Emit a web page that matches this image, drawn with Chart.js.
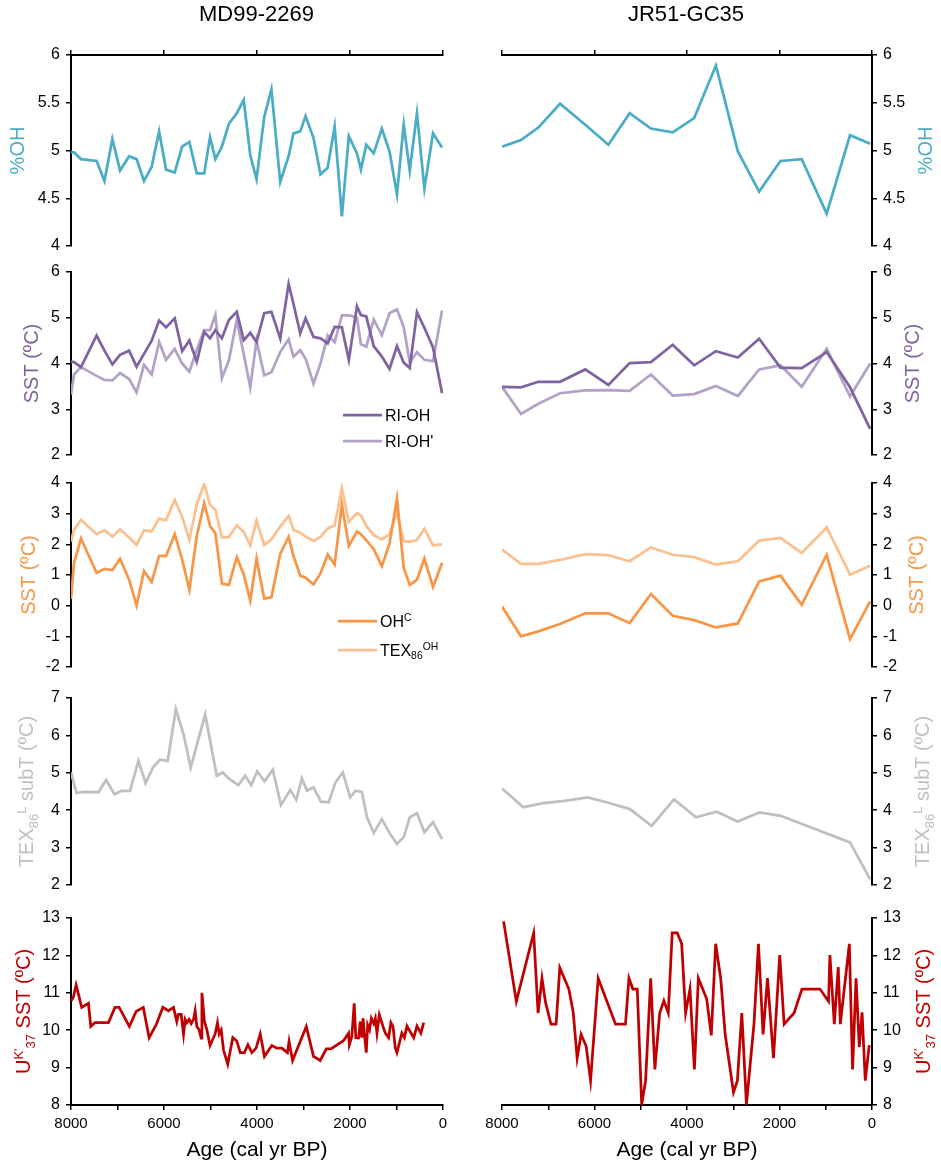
<!DOCTYPE html>
<html><head><meta charset="utf-8">
<script src="https://cdn.jsdelivr.net/npm/chart.js@4.4.1/dist/chart.umd.min.js"></script>
<style>
html,body{margin:0;padding:0;background:#fff;}
#wrap{position:relative;width:941px;height:1168px;overflow:hidden;background:#fff;}
.pane{position:absolute;}
.pane canvas{display:block;}
</style></head><body><div id="wrap"></div>
<script>
// ---------------- DATA ----------------
const cores = ['MD99-2269', 'JR51-GC35'];

// MD99-2269 – OH-GDGT based records (cal yr BP)
const ageMD_OH = [8000,7935,7785,7450,7280,7110,6945,6750,6590,6430,6265,6105,5955,5770,5610,5455,5295,5135,5010,4895,4755,4605,4435,4285,4145,4010,3845,3690,3500,3320,3215,3070,2955,2785,2635,2480,2330,2175,2025,1850,1765,1650,1490,1315,1150,990,845,715,560,400,215,20];
const pctOH_MD = [4.98,4.98,4.91,4.89,4.68,5.12,4.79,4.94,4.91,4.68,4.83,5.20,4.80,4.77,5.04,5.09,4.76,4.76,5.14,4.91,5.04,5.28,5.39,5.53,4.95,4.70,5.35,5.64,4.67,4.94,5.18,5.20,5.36,5.13,4.75,4.82,5.25,4.31,5.15,4.97,4.80,5.06,4.97,5.23,4.99,4.54,5.27,4.79,5.39,4.60,5.18,5.03];
const riOH_MD = [4.04,4.03,3.92,4.61,4.28,3.98,4.19,4.28,3.93,4.21,4.50,4.94,4.79,4.99,4.27,4.50,4.04,4.69,4.55,4.73,4.55,4.95,5.13,4.51,4.67,4.47,5.10,5.13,4.55,5.74,5.30,4.66,4.99,4.58,4.55,4.44,4.80,4.79,4.08,5.25,5.06,5.03,4.38,4.15,3.88,4.38,4.02,3.90,5.12,4.78,4.35,3.35];
const riOHp_MD = [3.32,3.76,3.92,3.73,3.64,3.63,3.79,3.66,3.37,3.97,3.76,4.47,4.08,4.32,4.00,3.82,4.30,4.73,4.73,5.06,3.68,4.07,4.95,4.20,3.48,4.50,3.74,3.81,4.25,4.53,4.15,4.29,4.11,3.56,4.00,4.62,4.47,5.05,5.05,5.00,4.42,4.37,4.96,4.62,5.10,5.18,4.80,4.02,4.25,4.08,4.05,5.16];
const ohC_MD = [0.22,1.40,2.19,1.07,1.20,1.16,1.53,0.85,0.00,1.13,0.77,1.62,1.62,2.33,1.51,0.52,2.27,3.34,2.60,2.36,0.72,0.68,1.58,1.02,0.17,1.53,0.23,0.27,1.69,2.25,1.62,0.98,0.91,0.69,1.05,1.67,1.34,3.29,1.95,2.42,2.33,2.14,1.84,1.29,2.02,3.50,1.24,0.67,0.85,1.53,0.61,1.40];
const tex86OH_MD = [2.09,2.47,2.80,2.33,2.46,2.25,2.49,2.22,1.98,2.46,2.42,2.84,2.79,3.45,2.90,2.14,3.31,3.97,3.28,3.13,2.22,2.24,2.62,2.40,1.97,2.77,1.98,2.16,2.58,2.93,2.47,2.38,2.25,2.11,2.24,2.52,2.62,3.83,2.73,3.02,2.95,2.60,2.30,2.16,2.33,3.04,2.11,2.08,2.14,2.51,1.97,2.00];
// MD99-2269 – TEX86L subsurface temperature
const ageMD_TEXL = [8000,7880,7735,7410,7245,7065,6910,6730,6550,6395,6240,6085,5920,5745,5580,5425,5260,5115,4865,4735,4590,4400,4255,4125,3995,3840,3660,3485,3285,3155,3035,2925,2785,2625,2460,2315,2155,1995,1885,1745,1635,1490,1315,1135,990,845,715,560,400,215,20];
const texL_MD = [5.01,4.46,4.49,4.48,4.81,4.43,4.52,4.52,5.32,4.72,5.14,5.35,5.32,6.70,6.03,5.14,5.90,6.56,4.92,5.01,4.83,4.67,4.92,4.67,5.04,4.77,5.08,4.14,4.54,4.28,4.85,4.52,4.61,4.23,4.21,4.74,5.01,4.34,4.52,4.49,3.81,3.39,3.76,3.36,3.10,3.28,3.81,3.92,3.41,3.68,3.23];
// MD99-2269 – UK'37 SST
const ageMD_UK = [8000,7950,7890,7770,7625,7575,7485,7195,7055,6965,6745,6600,6445,6320,6170,6025,5905,5795,5725,5690,5630,5580,5545,5510,5460,5415,5365,5330,5295,5245,5200,5185,5130,5080,5010,4900,4850,4815,4770,4720,4630,4520,4435,4360,4270,4195,4110,4020,3930,3840,3680,3575,3465,3345,3310,3235,2940,2785,2640,2510,2410,2140,2030,2015,1960,1910,1875,1815,1780,1745,1720,1685,1650,1620,1580,1540,1490,1455,1420,1370,1290,1240,1170,1120,1075,1025,990,885,830,775,630,560,475,415];
const uk37_MD = [10.78,10.88,11.21,10.61,10.72,10.10,10.20,10.20,10.61,10.61,10.10,10.50,10.61,9.80,10.14,10.61,10.52,10.61,10.23,10.42,10.42,9.89,10.29,10.20,10.29,10.18,10.29,10.52,10.10,10.01,9.79,11.00,10.23,10.02,9.59,9.90,10.20,9.90,10.01,9.47,9.09,9.80,9.71,9.40,9.40,9.61,9.40,9.52,9.90,9.30,9.59,9.52,9.52,9.40,9.70,9.19,10.10,9.30,9.19,9.50,9.50,9.72,9.92,9.61,9.83,10.72,9.80,9.79,10.23,9.80,10.32,9.83,9.40,10.14,10.01,10.32,10.18,10.32,9.92,10.41,10.10,9.92,9.80,10.20,10.10,9.52,9.40,9.92,9.80,10.11,9.80,10.11,9.92,10.20];

// JR51-GC35 – OH-GDGT based records
const ageJR_OH = [8000,7590,7215,6745,6200,5700,5240,4780,4310,3845,3375,2900,2440,1980,1520,980,475,40];
const pctOH_JR = [5.04,5.11,5.24,5.49,5.27,5.06,5.39,5.23,5.19,5.34,5.89,4.99,4.57,4.89,4.91,4.34,5.16,5.07];
const riOH_JR = [3.49,3.48,3.60,3.60,3.87,3.53,4.01,4.03,4.41,3.96,4.27,4.13,4.54,3.91,3.90,4.25,3.48,2.57];
const riOHp_JR = [3.49,2.90,3.12,3.35,3.41,3.42,3.40,3.76,3.30,3.33,3.51,3.29,3.87,3.96,3.49,4.32,3.28,4.00];
const ohC_JR = [-0.03,-1.00,-0.84,-0.60,-0.25,-0.25,-0.57,0.38,-0.33,-0.47,-0.71,-0.58,0.79,0.98,0.03,1.66,-1.09,0.14];
const tex86OH_JR = [1.83,1.36,1.36,1.49,1.68,1.65,1.45,1.90,1.66,1.58,1.34,1.45,2.12,2.21,1.72,2.55,1.01,1.30];
// JR51-GC35 – TEX86L subsurface temperature
const ageJR_TEXL = [8000,7540,7105,6650,6150,5700,5235,4765,4280,3805,3360,2905,2435,1975,475,40];
const texL_JR = [4.58,4.08,4.19,4.25,4.34,4.20,4.03,3.58,4.29,3.81,3.96,3.70,3.94,3.85,3.14,2.15];
// JR51-GC35 – UK'37 SST
const ageJR_UK = [7965,7690,7315,7220,7135,7060,6940,6830,6750,6555,6460,6375,6290,6180,6085,5920,5545,5330,5255,5170,5075,4980,4895,4785,4695,4590,4500,4405,4320,4210,4115,4030,3935,3840,3755,3575,3475,3380,3270,3175,2995,2910,2815,2715,2620,2550,2455,2355,2260,2130,1995,1900,1685,1515,1125,940,910,815,730,685,490,420,345,275,215,145,60];
const uk37_JR = [12.91,10.77,12.60,10.46,11.39,10.75,10.16,10.16,11.67,11.10,10.48,9.25,9.89,9.57,8.65,11.39,10.16,10.16,11.39,11.10,11.10,8.01,8.65,11.39,8.95,10.46,10.79,10.46,12.60,12.60,12.31,10.46,11.10,8.95,11.39,10.84,9.86,12.31,11.37,9.89,8.34,8.65,10.46,8.01,9.27,10.19,12.31,9.89,11.39,9.25,12.01,10.16,10.46,11.10,11.10,10.77,12.01,10.16,11.69,10.16,12.31,8.95,11.39,9.55,10.48,8.65,9.60];

// axis ranges [min, max, step]
const yPctOH = [4, 6, 0.5];
const ySSTri = [2, 6, 1];
const ySSTorange = [-2, 4, 1];
const ySubT = [2, 7, 1];
const yUK = [8, 13, 1];
const xAge = [0, 8000];
const xAxisTitle = 'Age (cal yr BP)';

// ---------------- STYLE / LAYOUT ----------------
const FONT = '"Liberation Sans", Arial, Helvetica, sans-serif';
const C = {teal:'#4bacc6', purple:'#8064a2', lilac:'#b3a2c7', orange:'#f79646', peach:'#fac090', grey:'#bfbfbf', red:'#c00000'};
const LW = 2.75;

const colsLayout = [
  {canvasLeft:0, width:470, areaLeft:71, areaRight:443, side:'left', axisW:71, titleX:[17,31,28,26,23], headX:256.5},
  {canvasLeft:470, width:471, areaLeft:502, areaRight:872, side:'right', axisW:69, titleX:[925,912,916,922,923], headX:686}
];
const rowsLayout = [
  {top:55, bottom:246},
  {top:272, bottom:455},
  {top:483, bottom:667},
  {top:698, bottom:885},
  {top:918, bottom:1105}
];

const rowsDef = [
  {range:yPctOH, color:C.teal, title:[{t:'%OH'}],
   series:[[{a:ageMD_OH, v:pctOH_MD, c:C.teal, l:'%OH'}],[{a:ageJR_OH, v:pctOH_JR, c:C.teal, l:'%OH'}]]},
  {range:ySSTri, color:C.purple, title:[{t:'SST (ºC)'}],
   series:[[{a:ageMD_OH, v:riOH_MD, c:C.purple, l:'RI-OH'},{a:ageMD_OH, v:riOHp_MD, c:C.lilac, l:"RI-OH'"}],
           [{a:ageJR_OH, v:riOH_JR, c:C.purple, l:'RI-OH'},{a:ageJR_OH, v:riOHp_JR, c:C.lilac, l:"RI-OH'"}]],
   legend:{x1:343, x2:382, ys:[415,441], items:[[{t:'RI-OH'}],[{t:"RI-OH'"}]], colors:[C.purple, C.lilac]}},
  {range:ySSTorange, color:C.orange, title:[{t:'SST (ºC)'}],
   series:[[{a:ageMD_OH, v:ohC_MD, c:C.orange, l:'OHc'},{a:ageMD_OH, v:tex86OH_MD, c:C.peach, l:'TEX86OH'}],
           [{a:ageJR_OH, v:ohC_JR, c:C.orange, l:'OHc'},{a:ageJR_OH, v:tex86OH_JR, c:C.peach, l:'TEX86OH'}]],
   legend:{x1:338, x2:377, ys:[621,650], items:[[{t:'OH'},{t:'C',sup:1}],[{t:'TEX'},{t:'86',sub:1},{t:'OH',sup:1}]], colors:[C.orange, C.peach]}},
  {range:ySubT, color:C.grey, title:[{t:'TEX'},{t:'86',sub:1},{t:'L',sup:1},{t:' subT (ºC)'}],
   series:[[{a:ageMD_TEXL, v:texL_MD, c:C.grey, l:'TEX86L subT'}],[{a:ageJR_TEXL, v:texL_JR, c:C.grey, l:'TEX86L subT'}]]},
  {range:yUK, color:C.red, title:[{t:'U'},{t:"K'",sup:1},{t:'37',sub:1},{t:' SST (ºC)'}],
   series:[[{a:ageMD_UK, v:uk37_MD, c:C.red, l:"UK'37 SST"}],[{a:ageJR_UK, v:uk37_JR, c:C.red, l:"UK'37 SST"}]]}
];

// ---------------- HELPERS ----------------
function drawRich(ctx, parts, x, y, rot, size, color, align) {
  ctx.save();
  ctx.translate(x, y);
  ctx.rotate(rot);
  ctx.fillStyle = color;
  ctx.textBaseline = 'alphabetic';
  ctx.textAlign = 'left';
  let w = 0;
  const items = parts.map(p => {
    const s = (p.sub || p.sup) ? size * 0.65 : size;
    ctx.font = s + 'px ' + FONT;
    const mw = ctx.measureText(p.t).width;
    w += mw;
    return {t:p.t, s:s, w:mw, dy: p.sub ? size * 0.22 : (p.sup ? -size * 0.38 : 0)};
  });
  let cx = align === 'left' ? 0 : -w / 2;
  const base = size * 0.358;
  items.forEach(it => {
    ctx.font = it.s + 'px ' + FONT;
    ctx.fillText(it.t, cx, base + it.dy);
    cx += it.w;
  });
  ctx.restore();
}

const richPlugin = {
  id: 'rich',
  afterDraw(chart, args, opts) {
    const ctx = chart.ctx;
    (opts.texts || []).forEach(t => drawRich(ctx, t.parts, t.x, t.y, t.rot || 0, t.size, t.color, 'center'));
    (opts.legend || []).forEach(l => {
      ctx.save();
      ctx.strokeStyle = l.color; ctx.lineWidth = LW; ctx.lineCap = 'butt';
      ctx.beginPath(); ctx.moveTo(l.x1, l.y); ctx.lineTo(l.x2, l.y); ctx.stroke();
      ctx.restore();
      drawRich(ctx, l.parts, l.x2 + 3, l.y, 0, 16, '#000', 'left');
    });
  }
};

function pts(ages, vals) { return ages.map((a, i) => ({x:a, y:vals[i]})); }
const fmtY = v => String(Math.round(v * 100) / 100);

// ---------------- BUILD ----------------
const wrap = document.getElementById('wrap');

colsLayout.forEach((col, ci) => {
  rowsDef.forEach((row, ri) => {
    const L = rowsLayout[ri];
    const isTop = ri === 0, isBottom = ri === rowsDef.length - 1;
    let cTop, cH, padTop, padBottom;
    if (isTop) { cTop = 0; padTop = L.top - 5; padBottom = 20; cH = L.bottom + 20; }
    else if (isBottom) { cTop = L.top - 20; padTop = 20; padBottom = 0; cH = (L.bottom - L.top) + 20 + 60; }
    else { cTop = L.top - 20; padTop = 20; padBottom = 20; cH = (L.bottom - L.top) + 40; }

    const div = document.createElement('div');
    div.className = 'pane';
    div.style.left = col.canvasLeft + 'px';
    div.style.top = cTop + 'px';
    div.style.width = col.width + 'px';
    div.style.height = cH + 'px';
    const cv = document.createElement('canvas');
    div.appendChild(cv);
    wrap.appendChild(div);

    const texts = [{parts:row.title, x:col.titleX[ri] - col.canvasLeft, y:(L.top + L.bottom) / 2 - cTop, rot:-Math.PI / 2, size:20, color:row.color}];
    if (isTop) texts.push({parts:[{t:cores[ci]}], x:col.headX - col.canvasLeft, y:13 - cTop, rot:0, size:22, color:'#000'});
    const legend = [];
    if (row.legend && ci === 0) {
      row.legend.items.forEach((it, k) => legend.push({x1:row.legend.x1 - col.canvasLeft, x2:row.legend.x2 - col.canvasLeft, y:row.legend.ys[k] - cTop, parts:it, color:row.legend.colors[k]}));
    }

    const datasets = row.series[ci].map(s => ({
      label: s.l, data: pts(s.a, s.v), borderColor: s.c, backgroundColor: s.c,
      borderWidth: LW, pointRadius: 0, pointHoverRadius: 0, fill: false, tension: 0,
      borderJoinStyle: 'miter', borderCapStyle: 'butt'
    }));

    const xTickFont = {family: FONT, size: 15};
    const yTickFont = {family: FONT, size: 16};
    new Chart(cv, {
      type: 'line',
      data: {datasets},
      options: {
        responsive: true, maintainAspectRatio: false, animation: false, events: [],
        layout: {padding: {top: padTop, bottom: padBottom,
          left: col.side === 'left' ? 0 : col.areaLeft - col.canvasLeft,
          right: col.side === 'left' ? col.canvasLeft + col.width - col.areaRight : 0}},
        plugins: {legend: {display: false}, tooltip: {enabled: false}, rich: {texts, legend}},
        scales: {
          x: {
            type: 'linear', min: xAge[0], max: xAge[1], reverse: true,
            position: isTop ? 'top' : 'bottom', display: isTop || isBottom,
            ticks: {stepSize: isTop ? 2000 : 1000, display: isBottom, autoSkip: false, maxRotation: 0, minRotation: 0,
                    padding: 5, font: xTickFont, color: '#000',
                    callback: v => (v % 2000 === 0 ? String(v) : '')},
            grid: {display: true, drawOnChartArea: false, drawTicks: true, tickLength: 5, tickWidth: 1.5, tickColor: '#000', color: '#000', lineWidth: 1.5},
            border: {display: true, color: '#000', width: 2},
            title: {display: isBottom, text: xAxisTitle, font: {family: FONT, size: 21}, color: '#000', padding: {top: 0, bottom: 2}},
            afterFit: s => { s.height = isTop ? 5 : (isBottom ? 60 : 0); }
          },
          y: {
            type: 'linear', min: row.range[0], max: row.range[1], position: col.side,
            ticks: {stepSize: row.range[2], padding: 6, font: yTickFont, color: '#000', autoSkip: false, callback: fmtY},
            grid: {display: true, drawOnChartArea: false, drawTicks: true, tickLength: 5, tickWidth: 1.5, tickColor: '#000', color: '#000', lineWidth: 1.5},
            border: {display: true, color: '#000', width: 2},
            afterFit: s => { s.width = col.axisW; }
          }
        }
      },
      plugins: [richPlugin]
    });
  });
});
</script>
</body></html>
